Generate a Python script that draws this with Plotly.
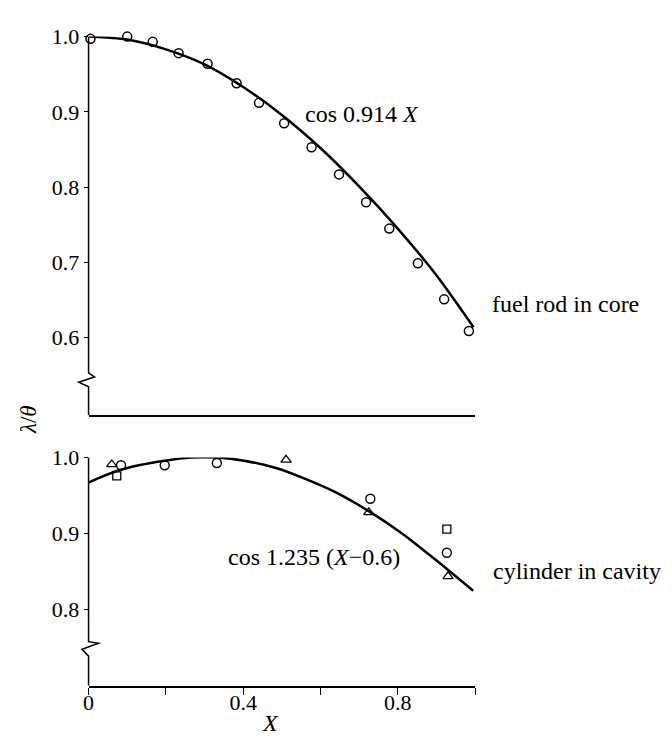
import plotly.graph_objects as go

# ---------------- data ----------------
# upper panel: fuel rod in core
fuel_x = [0.005, 0.10, 0.166, 0.233, 0.308, 0.383, 0.441, 0.506, 0.577, 0.648,
          0.718, 0.778, 0.852, 0.920, 0.984]
fuel_y = [0.997, 1.000, 0.993, 0.978, 0.964, 0.938, 0.912, 0.885, 0.853, 0.817,
          0.780, 0.745, 0.699, 0.651, 0.609]
fuel_curve_x = [0.0, 0.1, 0.2, 0.3, 0.4, 0.5, 0.6, 0.7, 0.8, 0.9, 0.996]
fuel_curve_y = [1.000, 0.996, 0.983, 0.963, 0.933, 0.896, 0.852, 0.801, 0.745, 0.683, 0.614]

# lower panel: cylinder in cavity
cyl_circle_x = [0.084, 0.197, 0.332, 0.477, 0.729, 0.927]
cyl_circle_y = [0.990, 0.990, 0.993, 1.004, 0.946, 0.875]
cyl_tri_x = [0.060, 0.511, 0.725, 0.930]
cyl_tri_y = [0.991, 0.997, 0.928, 0.844]
cyl_sq_x = [0.073, 0.927]
cyl_sq_y = [0.976, 0.906]
cyl_curve_x = [0.0, 0.026, 0.077, 0.13, 0.197, 0.265, 0.333, 0.402, 0.487, 0.556,
               0.641, 0.727, 0.812, 0.897, 0.995]
cyl_curve_y = [0.967, 0.973, 0.983, 0.990, 0.996, 1.000, 1.000, 0.996, 0.986, 0.973,
               0.954, 0.929, 0.900, 0.866, 0.825]

x_ticks = [0.0, 0.2, 0.4, 0.6, 0.8, 1.0]
x_ticktext = ["0", "", "0.4", "", "0.8", ""]
upper_yticks = [0.6, 0.7, 0.8, 0.9, 1.0]
lower_yticks = [0.8, 0.9, 1.0]

FONT = "Liberation Serif"
BLACK = "black"

fig = go.Figure()

# upper panel
fig.add_trace(go.Scatter(x=fuel_curve_x, y=fuel_curve_y, mode="lines",
                         line=dict(color=BLACK, width=2.5, shape="spline", smoothing=0.8),
                         xaxis="x", yaxis="y", cliponaxis=False, showlegend=False))
fig.add_trace(go.Scatter(x=fuel_x, y=fuel_y, mode="markers",
                         marker=dict(symbol="circle-open", size=9, color=BLACK, line=dict(width=1.5, color=BLACK)),
                         xaxis="x", yaxis="y", cliponaxis=False, showlegend=False))

# lower panel
fig.add_trace(go.Scatter(x=cyl_curve_x, y=cyl_curve_y, mode="lines",
                         line=dict(color=BLACK, width=2.5, shape="spline", smoothing=0.8),
                         xaxis="x2", yaxis="y2", cliponaxis=False, showlegend=False))
fig.add_trace(go.Scatter(x=cyl_circle_x, y=cyl_circle_y, mode="markers",
                         marker=dict(symbol="circle-open", size=9, color=BLACK, line=dict(width=1.4, color=BLACK)),
                         xaxis="x2", yaxis="y2", cliponaxis=False, showlegend=False))
fig.add_trace(go.Scatter(x=cyl_tri_x, y=cyl_tri_y, mode="markers",
                         marker=dict(symbol="triangle-up-open", size=9, color=BLACK, line=dict(width=1.3, color=BLACK)),
                         xaxis="x2", yaxis="y2", cliponaxis=False, showlegend=False))
fig.add_trace(go.Scatter(x=cyl_sq_x, y=cyl_sq_y, mode="markers",
                         marker=dict(symbol="square-open", size=8, color=BLACK, line=dict(width=1.3, color=BLACK)),
                         xaxis="x2", yaxis="y2", cliponaxis=False, showlegend=False))

W, H = 672, 737
xdom = [83.3 / W, 473.3 / W]
upper_dom = [1 - 410 / H, 1 - 25 / H]
lower_dom = [1 - 685 / H, 1 - 453 / H]

tickfont = dict(family=FONT, size=22, color=BLACK)

fig.update_layout(
    width=W, height=H,
    margin=dict(l=0, r=0, t=0, b=0),
    paper_bgcolor="white", plot_bgcolor="white",
    font=dict(family=FONT, color=BLACK),
    xaxis=dict(domain=xdom, range=[0, 1], anchor="y", showline=True, linecolor=BLACK, linewidth=1.5,
               showticklabels=False, ticks="", showgrid=False, zeroline=False),
    yaxis=dict(domain=upper_dom, range=[0.497, 1.0], anchor="x", showline=False, showgrid=False, zeroline=False,
               tickvals=upper_yticks, ticktext=[f"{v:.1f}" for v in upper_yticks], ticks="outside", ticklen=4,
               tickwidth=1, tickcolor=BLACK, tickfont=tickfont),
    xaxis2=dict(domain=xdom, range=[0, 1], anchor="y2", showline=True, linecolor=BLACK, linewidth=1.5,
                tickvals=x_ticks, ticktext=x_ticktext, ticks="outside", ticklen=7, tickwidth=1.2, tickcolor=BLACK,
                tickfont=tickfont, ticklabelstandoff=-11, showgrid=False, zeroline=False),
    yaxis2=dict(domain=lower_dom, range=[0.70, 1.0], anchor="x2", showline=False, showgrid=False, zeroline=False,
                tickvals=lower_yticks, ticktext=[f"{v:.1f}" for v in lower_yticks], ticks="outside", ticklen=4,
                tickwidth=1, tickcolor=BLACK, tickfont=tickfont),
)

# y-axis lines with break (zigzag) marks
upper_path = ("M 0,1.0 L 0,0.5533 L 0.0154,0.548 L -0.0256,0.541 L 0,0.535 L 0,0.497")
lower_path = ("M 0,1.0 L 0,0.758 L 0.0256,0.756 L -0.0171,0.748 L 0,0.739 L 0,0.70")
fig.add_shape(type="path", path=upper_path, xref="x domain", yref="y", line=dict(color=BLACK, width=1.5))
fig.add_shape(type="path", path=lower_path, xref="x2 domain", yref="y2", line=dict(color=BLACK, width=1.5))

annfont = dict(family=FONT, size=24, color=BLACK)
fig.add_annotation(x=0.556, y=0.897, xref="x", yref="y", text="cos 0.914 <i>X</i>", showarrow=False,
                   xanchor="left", yanchor="middle", font=annfont)
fig.add_annotation(x=488 / W, y=1 - 297 / H, xref="paper", yref="paper", text="fuel rod in core", showarrow=False,
                   xanchor="left", yanchor="middle", font=annfont)
fig.add_annotation(x=0.356, y=0.869, xref="x2", yref="y2", text="cos 1.235 (<i>X</i>\u22120.6)", showarrow=False,
                   xanchor="left", yanchor="middle", font=annfont)
fig.add_annotation(x=489 / W, y=1 - 568 / H, xref="paper", yref="paper", text="cylinder in cavity", showarrow=False,
                   xanchor="left", yanchor="middle", font=annfont)
fig.add_annotation(x=0.471, y=0, xref="x2", yref="paper", text="<i>X</i>", showarrow=False,
                   xanchor="center", yanchor="bottom", borderpad=0, font=dict(family=FONT, size=24, color=BLACK))
fig.add_annotation(x=22 / W, y=1 - 414 / H, xref="paper", yref="paper", text="<i>λ</i>/<i>θ</i>", showarrow=False,
                   textangle=-90, xanchor="center", yanchor="middle", font=dict(family=FONT, size=23, color=BLACK))

fig.write_html("out.html", config={"displayModeBar": False},
               post_script="document.body.style.margin='0';")
